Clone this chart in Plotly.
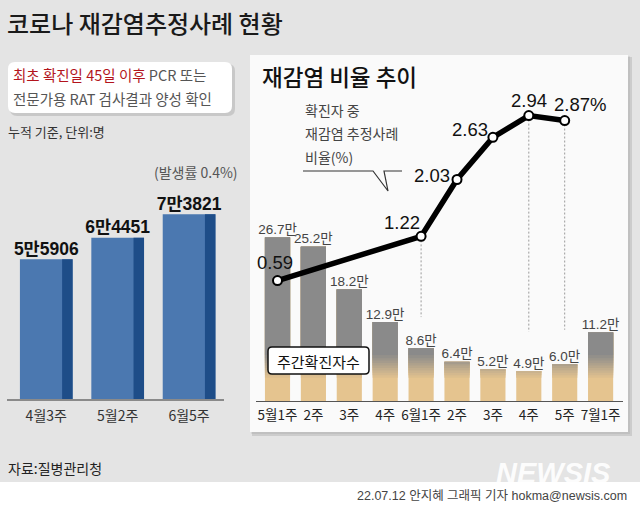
import plotly.graph_objects as go

# ---------------- data ----------------
left_cats = ["4월3주", "5월2주", "6월5주"]
left_vals = [55906, 64451, 73821]
left_labels = ["5만5906", "6만4451", "7만3821"]

week_ticks = ["5월1주", "2주", "3주", "4주", "6월1주", "2주", "3주", "4주", "5주", "7월1주"]
weekly_cases = [26.7, 25.2, 18.2, 12.9, 8.6, 6.4, 5.2, 4.9, 6.0, 11.2]  # 만 명

ratio_idx = [0, 4, 5, 6, 7, 8]
ratio_vals = [0.59, 1.22, 2.03, 2.63, 2.94, 2.87]
ratio_labels = ["0.59", "1.22", "2.03", "2.63", "2.94", "2.87%"]

# ---------------- helpers ----------------
W, H = 640, 508
def X(px):
    return px / W
def Y(py):
    return 1 - py / H

KR = "Noto Sans CJK KR"
NUM = "Liberation Sans, Arial, Noto Sans CJK KR"

def rrect(x0, y0, x1, y1, r):
    rx, ry = r / W, r / H
    a, b, c, d = X(x0), Y(y0), X(x1), Y(y1)
    return (f"M {a+rx},{b} L {c-rx},{b} Q {c},{b} {c},{b-ry} L {c},{d+ry} "
            f"Q {c},{d} {c-rx},{d} L {a+rx},{d} Q {a},{d} {a},{d+ry} L {a},{b-ry} "
            f"Q {a},{b} {a+rx},{b} Z")

fig = go.Figure()

# ---------------- left chart ----------------
lx = list(range(len(left_vals)))
fig.add_trace(go.Bar(x=lx, y=left_vals, width=0.738, marker=dict(color="#4b78b0", line=dict(width=0)),
                     xaxis="x", yaxis="y", hoverinfo="skip"))
fig.add_trace(go.Bar(x=lx, y=left_vals, width=0.147, offset=0.222,
                     marker=dict(color="#1e4d88", line=dict(width=0)),
                     xaxis="x", yaxis="y", hoverinfo="skip"))
fig.add_trace(go.Scatter(x=lx, y=left_vals, mode="text", text=left_labels, textposition="top center",
                         textfont=dict(family=NUM, size=17.5, color="#111", weight="bold"),
                         xaxis="x", yaxis="y", hoverinfo="skip"))

# ---------------- right chart: gradient bars via overlapping bands ----------------
rx = list(range(len(weekly_cases)))
tan = (229, 196, 143)
grey = (138, 138, 138)
breaks = [0, 3.8, 4.2, 4.6, 5.0, 5.4, 5.8, 6.2, 6.6, 7.0, 7.5]
nb = len(breaks)
for k in range(nb):
    b0 = breaks[k]
    t = k / (nb - 1)
    col = tuple(round(tan[i] + (grey[i] - tan[i]) * t) for i in range(3))
    seg = [max(0.0, v - b0) for v in weekly_cases]
    fig.add_trace(go.Bar(x=rx, y=seg, base=b0, width=0.70,
                         marker=dict(color=f"rgb{col}", line=dict(width=0)),
                         xaxis="x2", yaxis="y2", hoverinfo="skip"))
fig.add_trace(go.Scatter(x=rx, y=weekly_cases, mode="text",
                         text=[f"{v:.1f}만" for v in weekly_cases], textposition="top center",
                         textfont=dict(family=NUM, size=13.5, color="#444"),
                         xaxis="x2", yaxis="y2", hoverinfo="skip"))

# ratio line
fig.add_trace(go.Scatter(x=ratio_idx, y=ratio_vals, mode="lines+markers",
                         line=dict(color="#000", width=5.5),
                         marker=dict(size=9, color="#fff", line=dict(color="#000", width=2)),
                         xaxis="x2", yaxis="y3", hoverinfo="skip"))

label_shift = [(-3, 18), (-19, 14), (-25, 4), (-23, 8), (0, 15), (15, 16)]
annotations = []
for xi, v, t, (dx, dy) in zip(ratio_idx, ratio_vals, ratio_labels, label_shift):
    annotations.append(dict(x=xi, y=v, xref="x2", yref="y3", text=t, showarrow=False,
                            xshift=dx, yshift=dy, xanchor="center", yanchor="middle",
                            font=dict(family=NUM, size=18.5, color="#111")))

# ---------------- shapes ----------------
shapes = []
shapes.append(dict(type="rect", xref="paper", yref="paper", x0=0, x1=1, y0=Y(508), y1=Y(482),
                   fillcolor="#ffffff", line=dict(width=0), layer="below"))
shapes.append(dict(type="rect", xref="paper", yref="paper", x0=X(252), x1=X(632), y0=Y(436), y1=Y(57),
                   fillcolor="rgba(0,0,0,0.10)", line=dict(width=0), layer="below"))
shapes.append(dict(type="rect", xref="paper", yref="paper", x0=X(251), x1=X(630), y0=Y(434), y1=Y(56),
                   fillcolor="rgba(0,0,0,0.06)", line=dict(width=0), layer="below"))
shapes.append(dict(type="rect", xref="paper", yref="paper", x0=X(250), x1=X(628), y0=Y(432), y1=Y(55),
                   fillcolor="#fafafa", line=dict(width=0), layer="below"))
shapes.append(dict(type="path", xref="paper", yref="paper", path=rrect(10, 64, 235, 116, 7),
                   fillcolor="rgba(0,0,0,0.12)", line=dict(width=0), layer="below"))
shapes.append(dict(type="path", xref="paper", yref="paper", path=rrect(8, 62, 232, 113, 7),
                   fillcolor="#ffffff", line=dict(width=0), layer="below"))
for xi, y0, y1 in [(4, 1.22, 0.07), (7, 2.94, -0.14), (8, 2.87, -0.11)]:
    shapes.append(dict(type="line", xref="x2", yref="y3", x0=xi, x1=xi, y0=y0, y1=y1,
                       line=dict(color="#9a9a9a", width=1, dash="2px,2px"), layer="below"))
cp = [(303, 171), (373, 171), (388, 191), (384, 171), (402, 171)]
path = "M " + " L ".join(f"{X(a)},{Y(b)}" for a, b in cp)
shapes.append(dict(type="path", xref="paper", yref="paper", path=path,
                   line=dict(color="#333", width=1.2)))
shapes.append(dict(type="path", xref="paper", yref="paper", path=rrect(268, 347, 369, 374, 4),
                   fillcolor="#ffffff", line=dict(color="#111", width=1.5)))

# ---------------- text annotations ----------------
def txt(x, y, s, size, color="#222", anchor="left", family=KR, weight="normal", **kw):
    annotations.append(dict(x=X(x), y=Y(y), xref="paper", yref="paper", text=s, showarrow=False,
                            xanchor=anchor, yanchor="middle",
                            font=dict(family=family, size=size, color=color, weight=weight), **kw))

txt(5, 22, "코로나 재감염추정사례 현황", 24, "#1a1a1a", weight=500)
txt(11, 75, "<span style='color:#b3141c'>최초 확진일 45일 이후</span> PCR 또는", 14.5, "#555")
txt(11, 98, "전문가용 RAT 검사결과 양성 확인", 14.5, "#555")
txt(6, 131, "누적 기준, 단위:명", 13, "#333")
txt(240, 172, "(발생률 0.4%)", 14, "#555", anchor="right")
txt(260, 76, "재감염 비율 추이", 22.5, "#111", weight=500)
txt(303, 110, "확진자 중", 14, "#444")
txt(303, 133, "재감염 추정사례", 14, "#444")
txt(303, 157, "비율(%)", 14, "#444")
txt(318.5, 361, "주간확진자수", 15, "#111", anchor="center")
txt(6, 468, "자료:질병관리청", 14, "#222")
txt(553, 473, "<b><i>NEWSIS</i></b>", 29, "rgba(255,255,255,0.92)", anchor="center",
    family="Liberation Sans, Arial", height=30)
txt(629, 496, "22.07.12 안지혜 그래픽 기자 hokma@newsis.com", 12.5, "#444", anchor="right", family=NUM)

# ---------------- layout ----------------
fig.update_layout(
    width=W, height=H, margin=dict(l=0, r=0, t=0, b=0),
    paper_bgcolor="#e4e4e4", plot_bgcolor="rgba(0,0,0,0)",
    barmode="overlay", showlegend=False,
    xaxis=dict(domain=[X(7), X(224)], range=[-0.550, 2.489], tickvals=lx, ticktext=left_cats,
               showgrid=False, zeroline=False, showline=True, linecolor="#8a8a8a", linewidth=1.5,
               ticks="", ticklabelstandoff=3,
               tickfont=dict(family=KR, size=14, color="#333"), fixedrange=True),
    yaxis=dict(domain=[Y(399.3), Y(140)], range=[0, 103430], visible=False, fixedrange=True),
    xaxis2=dict(domain=[X(256), X(623)], range=[-0.599, 9.624], tickvals=rx, ticktext=week_ticks,
                showgrid=False, zeroline=False, showline=True, linecolor="#555", linewidth=1.2,
                ticks="", ticklabelstandoff=2,
                tickfont=dict(family=KR, size=13.5, color="#222"), anchor="y2", fixedrange=True),
    yaxis2=dict(domain=[Y(401), Y(90)], range=[0, 311 / 6.12], visible=False, anchor="x2", fixedrange=True),
    yaxis3=dict(domain=[Y(401), Y(90)], range=[-79 / 70.2, 232 / 70.2], visible=False,
                overlaying="y2", anchor="x2", fixedrange=True),
    shapes=shapes, annotations=annotations,
)

fig.write_html("out.html", config={"displayModeBar": False},
               post_script="document.body.style.margin='0';")
